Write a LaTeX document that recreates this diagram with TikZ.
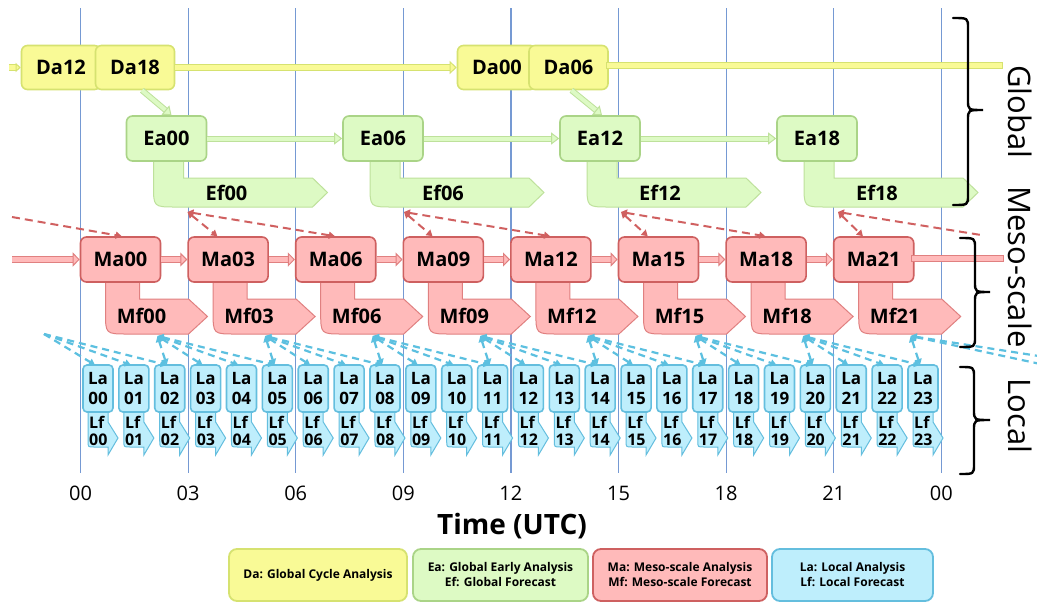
\documentclass[tikz,border=0pt]{standalone}
\usepackage{fontspec}
\setmainfont{Open Sans}
\usetikzlibrary{arrows.meta}
\definecolor{yfill}{RGB}{249,250,150}
\definecolor{ybord}{RGB}{214,226,112}
\definecolor{gfill}{RGB}{221,250,196}
\definecolor{gbord}{RGB}{170,212,135}
\definecolor{gbordl}{RGB}{190,225,155}
\definecolor{pfill}{RGB}{255,186,186}
\definecolor{pbord}{RGB}{206,96,96}
\definecolor{pbordl}{RGB}{224,128,128}
\definecolor{cfill}{RGB}{190,238,252}
\definecolor{cbord}{RGB}{100,190,222}
\definecolor{rdashc}{RGB}{208,96,96}
\definecolor{cdashc}{RGB}{92,192,224}
\definecolor{gridc}{RGB}{117,153,211}
\newcommand{\bfnt}{\fontsize{20}{24}\selectfont\bfseries}
\begin{document}
\begin{tikzpicture}[x=1pt,y=-1pt,
  box/.style={rounded corners=6pt, line width=1.6pt, minimum width=80pt, minimum height=45pt, inner sep=0pt, font=\bfnt},
  dabox/.style={box, draw=ybord, fill=yfill, minimum width=79pt, minimum height=44pt},
  eabox/.style={box, draw=gbord, fill=gfill},
  mabox/.style={box, draw=pbord, fill=pfill},
  efshape/.style={draw=gbordl, fill=gfill, line width=1pt},
  mfshape/.style={draw=pbordl, fill=pfill, line width=1pt},
  lab/.style={font=\bfnt, inner sep=0pt},
  labox/.style={draw=cbord, fill=cfill, line width=1.6pt, rounded corners=4pt, minimum width=30pt, minimum height=47pt, inner sep=0pt, align=center, font=\fontsize{17}{20}\selectfont\bfseries},
  lfshape/.style={draw=cbord, fill=cfill, line width=1pt},
  lftext/.style={align=left, inner sep=0pt, anchor=west, font=\fontsize{16}{17}\selectfont\bfseries},
  yblk/.style={draw=ybord, line width=1pt, double=yfill, double distance=4.5pt},
  yhead/.style={arrows={-Triangle[length=7pt,width=13pt,fill=yfill,color=ybord,line width=1pt]}},
  yheadsm/.style={arrows={-Triangle[length=5pt,width=9pt,fill=yfill,color=ybord,line width=1pt]}},
  gblk/.style={draw=gbordl, line width=1pt, double=gfill, double distance=4pt},
  ghead/.style={arrows={-Triangle[length=8pt,width=12pt,fill=gfill,color=gbordl,line width=1pt]}},
  pblk/.style={draw=pbordl, line width=1pt, double=pfill, double distance=5pt},
  phead/.style={arrows={-Triangle[length=7pt,width=14pt,fill=pfill,color=pbordl,line width=1pt]}},
  rdash/.style={draw=rdashc, line width=2pt, dash pattern=on 8pt off 5pt},
  cdash/.style={draw=cdashc, line width=2.2pt, dash pattern=on 7pt off 5pt},
  rboth/.style={arrows={Triangle[length=6pt,width=7pt]-Triangle[length=6pt,width=7pt]}},
  rend/.style={arrows={-Triangle[length=6pt,width=7pt]}},
  rstart/.style={arrows={Triangle[length=6pt,width=7pt]-}},
  gridline/.style={draw=gridc, line width=1.2pt},
  tick/.style={font=\fontsize{20}{24}\selectfont, inner sep=0pt},
  bracec/.style={draw=black, line width=2.4pt, line cap=round},
  sidelab/.style={rotate=-90, font=\fontsize{31}{36}\selectfont, inner sep=0pt},
  legbox/.style={rounded corners=8pt, line width=1.8pt, minimum height=52pt, inner sep=0pt, align=center, font=\fontsize{12}{15}\selectfont\bfseries}
]
\fill[white] (0,0) rectangle (1037,603);
\useasboundingbox (0,0) rectangle (1037,603);

% grid and ticks
\foreach \i/\tx in {0/00,1/03,2/06,3/09,4/12,5/15,6/18,7/21,8/00} {
  \pgfmathsetmacro\XX{80.5+107.6*\i}
  \coordinate (gt\i) at (\XX,8);
  \coordinate (gb\i) at (\XX,473);
  \draw[gridline] (gt\i) -- (gb\i);
  \node[tick] (tk\i) at (\XX,493) {\tx};
}
\node[font=\fontsize{28}{32}\selectfont\bfseries, inner sep=0pt] (tlab) at (512,526) {Time (UTC)};

% Global early analysis and forecasts
\foreach \LL/\nm/\i in {126.5/00/0, 343/06/1, 560/12/2, 777/18/3} {
  \draw[efshape] ({\LL+57},158) -- ({\LL+57},178) -- ({\LL+186},178) -- ({\LL+201},192.5) -- ({\LL+186},207) -- ({\LL+49},207) .. controls ({\LL+27},207) .. ({\LL+27},185) -- ({\LL+27},158) -- cycle;
  \node[lab] (ef\i) at ({\LL+100},193) {Ef\nm};
  \node[eabox] (ea\i) at ({\LL+40},138.5) {Ea\nm};
  \coordinate (se\i) at ({\LL+61},212);
}

% Global cycle analysis
\node[dabox] (da12) at (61,67.5) {Da12};
\node[dabox] (da18) at (135,67.5) {Da18};
\node[dabox] (da00) at (497,67.5) {Da00};
\node[dabox] (da06) at (568.5,67.5) {Da06};
\coordinate (din) at (9,67.5);
\coordinate (dout) at (1000,65.5);
\draw[yblk,yheadsm] (din) -- (da12.west);
\draw[yblk,yhead] (da18.east) -- (da00.west);
\draw[yblk,line cap=rect] ([yshift=2pt]da06.east) -- (dout);
\draw[gblk,ghead] ([xshift=7pt]da18.south) -- ([xshift=5pt]ea0.north);
\draw[gblk,ghead] ([xshift=3pt]da06.south) -- ([xshift=2pt]ea2.north);
\draw[gblk,ghead] (ea0.east) -- (ea1.west);
\draw[gblk,ghead] (ea1.east) -- (ea2.west);
\draw[gblk,ghead] (ea2.east) -- (ea3.west);

% Meso-scale
\foreach \k/\nm in {0/00,1/03,2/06,3/09,4/12,5/15,6/18,7/21} {
  \pgfmathsetmacro\LL{80.5+107.6*\k}
  \draw[mfshape] ({\LL+59},279) -- ({\LL+59},299) -- ({\LL+108},299) -- ({\LL+127},316.5) -- ({\LL+108},334) -- ({\LL+47},334) .. controls ({\LL+25},334) .. ({\LL+25},312) -- ({\LL+25},279) -- cycle;
  \node[lab] (mf\k) at ({\LL+61},316) {Mf\nm};
  \node[mabox] (ma\k) at ({\LL+40},259.5) {Ma\nm};
  \coordinate (sl\k) at ({\LL+77},336);
}
\coordinate (mleft) at (12,259.5);
\coordinate (mright) at (1000,258.5);
\draw[pblk,phead] (mleft) -- (ma0.west);
\foreach \k in {0,...,6} {
  \pgfmathtruncatemacro\mm{\k+1}
  \draw[pblk,phead] (ma\k.east) -- (ma\mm.west);
}
\draw[pblk,line cap=rect] ([yshift=1pt]ma7.east) -- (mright);

% Local
\foreach \h/\tx in {0/00,1/01,2/02,3/03,4/04,5/05,6/06,7/07,8/08,9/09,10/10,11/11,12/12,13/13,14/14,15/15,16/16,17/17,18/18,19/19,20/20,21/21,22/22,23/23} {
  \pgfmathsetmacro\LL{83+35.87*\h}
  \draw[lfshape] ({\LL+5},409) -- ({\LL+25},409) -- ({\LL+25},422) -- ({\LL+35},438) -- ({\LL+25},455) -- ({\LL+25},447) -- ({\LL+11},447) .. controls ({\LL+5},447) .. ({\LL+5},441) -- cycle;
  \node[lftext] (lf\h) at ({\LL+6},430.5) {Lf\\\tx};
  \node[labox] (la\h) at ({\LL+15},388.5) {La\\\tx};
  \coordinate (lt\h) at ({\LL+12},365);
}

% red dashed: global forecast -> meso analyses
\coordinate (rin) at (12,217);
\coordinate (rout) at (981,235);
\draw[rdash,rend] (rin) -- ([xshift=42pt]ma0.north west);
\foreach \j in {0,1,2} {
  \pgfmathtruncatemacro\aa{2*\j+1}
  \pgfmathtruncatemacro\bb{2*\j+2}
  \draw[rdash,rboth] (se\j) -- ([xshift=30pt]ma\aa.north west);
  \draw[rdash,rboth] (se\j) -- ([xshift=40pt]ma\bb.north west);
}
\draw[rdash,rboth] (se3) -- ([xshift=30pt]ma7.north west);
\draw[rdash,rstart] (se3) -- (rout);

% cyan dashed: meso forecast -> local analyses
\foreach \k in {0,...,7} {
  \foreach \d in {2,3,4,5} {
    \pgfmathtruncatemacro\hh{3*\k+\d}
    \ifnum\hh<24 \draw[cdash,rboth] (sl\k) -- (lt\hh); \fi
  }
}
\coordinate (clin) at (44,334);
\foreach \h in {0,1,2} { \draw[cdash,rend] (clin) -- (lt\h); }
\coordinate (clo1) at (1045,365);
\coordinate (clo2) at (1045,357);
\draw[cdash,rstart] (sl7) -- (clo1);
\draw[cdash,rstart] (sl7) -- (clo2);

% braces and side labels
\draw[bracec] (953,18) .. controls (968,18) .. (968,28) -- (968,100) .. controls (968,110) .. (983,110) .. controls (968,110) .. (968,120) -- (968,195) .. controls (968,205) .. (953,205);
\draw[bracec] (960,238) .. controls (975,238) .. (975,248) -- (975,282) .. controls (975,292) .. (990,292) .. controls (975,292) .. (975,302) -- (975,337) .. controls (975,347) .. (960,347);
\draw[bracec] (960,367) .. controls (974,367) .. (974,377) -- (974,410) .. controls (974,420) .. (990,420) .. controls (974,420) .. (974,430) -- (974,464) .. controls (974,474) .. (960,474);
\node[sidelab] (lglob) at (1020,112) {Global};
\node[sidelab] (lmeso) at (1020,267) {Meso-scale};
\node[sidelab] (lloc) at (1020,416) {Local};

% legend
\node[legbox, draw=ybord, fill=yfill, minimum width=178pt] (lg1) at (318,575) {Da: Global Cycle Analysis};
\node[legbox, draw=gbord, fill=gfill, minimum width=175pt] (lg2) at (500.5,575) {Ea: Global Early Analysis\\Ef: Global Forecast};
\node[legbox, draw=pbord, fill=pfill, minimum width=174pt] (lg3) at (680,575) {Ma: Meso-scale Analysis\\Mf: Meso-scale Forecast};
\node[legbox, draw=cbord, fill=cfill, minimum width=161pt] (lg4) at (852.5,575) {La: Local Analysis\\Lf: Local Forecast};
\end{tikzpicture}
\end{document}
